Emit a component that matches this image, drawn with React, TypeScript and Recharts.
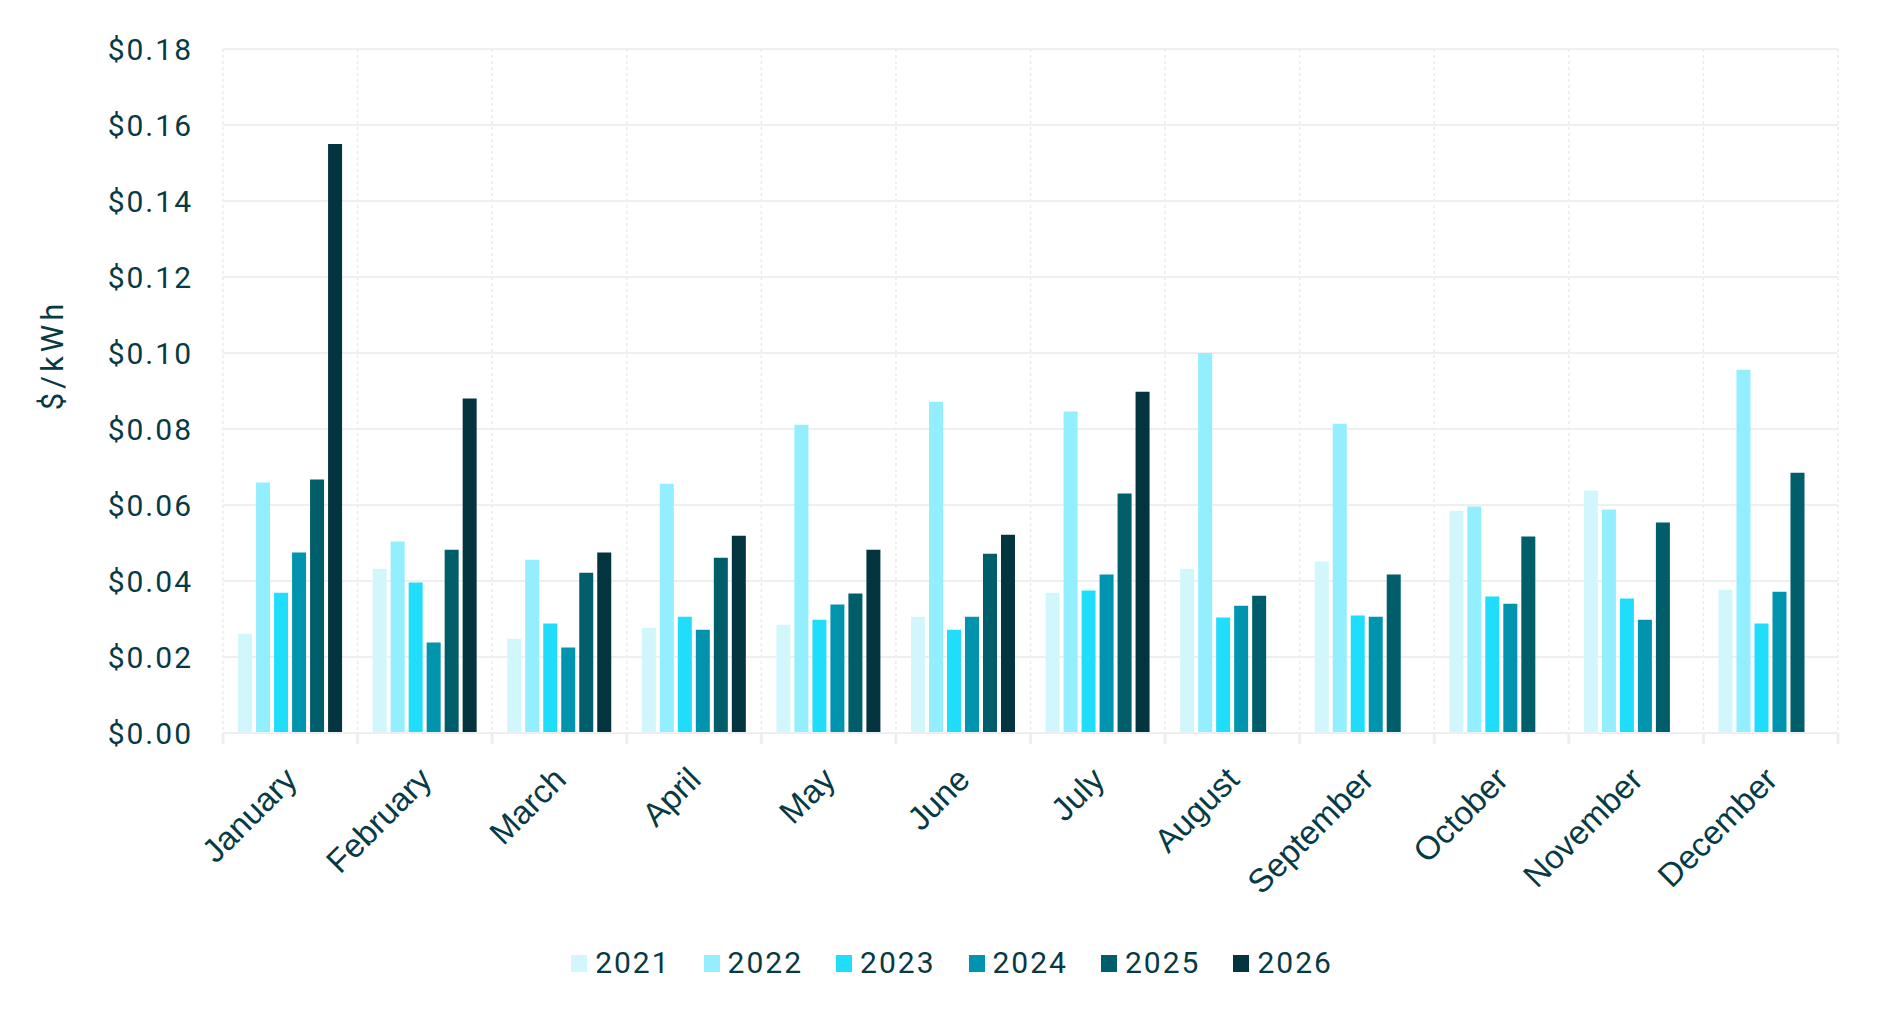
import { Bar, BarChart, CartesianGrid, Legend, XAxis, YAxis } from "recharts"

const months = [
  "January", "February", "March", "April", "May", "June",
  "July", "August", "September", "October", "November", "December",
]

const years = ["2021", "2022", "2023", "2024", "2025", "2026"]

const y2021 = [0.0261, 0.0432, 0.0248, 0.0277, 0.0285, 0.0306, 0.0369, 0.0432, 0.0451, 0.0585, 0.0638, 0.0377]
const y2022 = [0.0659, 0.0504, 0.0456, 0.0656, 0.0811, 0.0872, 0.0846, 0.1, 0.0814, 0.0596, 0.0588, 0.0956]
const y2023 = [0.0369, 0.0396, 0.0288, 0.0306, 0.0298, 0.0272, 0.0375, 0.0304, 0.0309, 0.0359, 0.0354, 0.0288]
const y2024 = [0.0475, 0.0238, 0.0225, 0.0272, 0.0338, 0.0306, 0.0417, 0.0335, 0.0306, 0.034, 0.0298, 0.0372]
const y2025 = [0.0667, 0.0482, 0.0422, 0.0461, 0.0367, 0.0472, 0.063, 0.0361, 0.0417, 0.0517, 0.0554, 0.0685]
const y2026 = [0.155, 0.088, 0.0475, 0.0519, 0.0482, 0.0522, 0.0898, null, null, null, null, null]

const yTicks = [0, 0.02, 0.04, 0.06, 0.08, 0.1, 0.12, 0.14, 0.16, 0.18]

const colors = ["#d1f7fd", "#93eefd", "#21ddfc", "#0094ae", "#005e6b", "#02353f"]
const ink = "#073a44"
const axisGray = "#eeeeee"

const series = [y2021, y2022, y2023, y2024, y2025, y2026]

const data = months.map((month, i) => {
  const row: Record<string, string | number | null> = { month }
  years.forEach((y, j) => {
    row[y] = series[j][i]
  })
  return row
})

const tickFont = "Roboto, 'Liberation Sans', sans-serif"
const TICK_SIZE = 10
const TICK_MARGIN = 22

function YearLegend() {
  return (
    <div style={{ display: "flex", justifyContent: "center", alignItems: "center", gap: 33, height: 34 }}>
      {years.map((y, i) => (
        <div key={y} style={{ display: "flex", alignItems: "center", gap: 8 }}>
          <span style={{ display: "inline-block", width: 16, height: 17, background: colors[i] }} />
          <span style={{ fontFamily: tickFont, fontSize: 30, letterSpacing: 2, color: ink, lineHeight: "34px" }}>{y}</span>
        </div>
      ))}
    </div>
  )
}

const renderYLabel = (props: any) => {
  const { viewBox } = props
  const cx = viewBox.x + 44
  const cy = viewBox.y + 306
  return (
    <text
      x={cx}
      y={cy}
      transform={`rotate(-90 ${cx} ${cy})`}
      textAnchor="middle"
      dominantBaseline="central"
      fill={ink}
      fontFamily={tickFont}
      fontSize={31}
      letterSpacing={4}
    >
      $/kWh
    </text>
  )
}

// month label plus a tick mark on the band's left edge (and right edge for the last one)
const MonthTick = (props: any) => {
  const { x, y, payload, index } = props
  const half = payload && payload.offset ? payload.offset : 67.3
  const axisY = y - TICK_SIZE - TICK_MARGIN
  const tx = x - 8
  return (
    <g>
      <line x1={x - half} x2={x - half} y1={axisY} y2={axisY + 11} stroke={axisGray} strokeWidth={3} />
      {index === months.length - 1 && (
        <line x1={x + half} x2={x + half} y1={axisY} y2={axisY + 11} stroke={axisGray} strokeWidth={3} />
      )}
      <text
        x={tx}
        y={y}
        dy="0.71em"
        textAnchor="end"
        transform={`rotate(-45 ${tx} ${y})`}
        fill={ink}
        fontSize={33}
        fontFamily="'Liberation Sans', Arial, sans-serif"
      >
        {payload.value}
      </text>
    </g>
  )
}

export default function App() {
  return (
    <BarChart
      width={1872}
      height={1000}
      data={data}
      margin={{ top: 41, right: 42, left: 0, bottom: 28 }}
      barCategoryGap="11.2%"
      barGap={4}
    >
      <CartesianGrid
        yAxisId="val"
        horizontal={false}
        stroke="#ebebeb"
        strokeDasharray="3 3"
        strokeWidth={1.5}
        verticalCoordinatesGenerator={({ offset }: any) =>
          months.concat([""]).map((_, i) => offset.left + (offset.width * i) / months.length)
        }
      />
      <CartesianGrid yAxisId="val" vertical={false} stroke="#efefef" strokeWidth={2} />
      <XAxis
        dataKey="month"
        interval={0}
        height={213}
        axisLine={{ stroke: axisGray, strokeWidth: 2 }}
        tickLine={false}
        tickSize={TICK_SIZE}
        tickMargin={TICK_MARGIN}
        tick={<MonthTick />}
      />
      <YAxis
        yAxisId="val"
        width={215}
        domain={[0, 0.18]}
        ticks={yTicks}
        axisLine={false}
        tickLine={false}
        tickSize={0}
        tickMargin={30}
        tickFormatter={(v: number) => `$${v.toFixed(2)}`}
        tick={{ fill: ink, fontSize: 30, fontFamily: tickFont, letterSpacing: 2 }}
        label={renderYLabel}
      />
      <Legend verticalAlign="bottom" wrapperStyle={{ left: 0, width: 1888 }} content={() => <YearLegend />} />
      {years.map((y, i) => (
        <Bar key={y} yAxisId="val" dataKey={y} name={y} fill={colors[i]} isAnimationActive={false} />
      ))}
    </BarChart>
  )
}
